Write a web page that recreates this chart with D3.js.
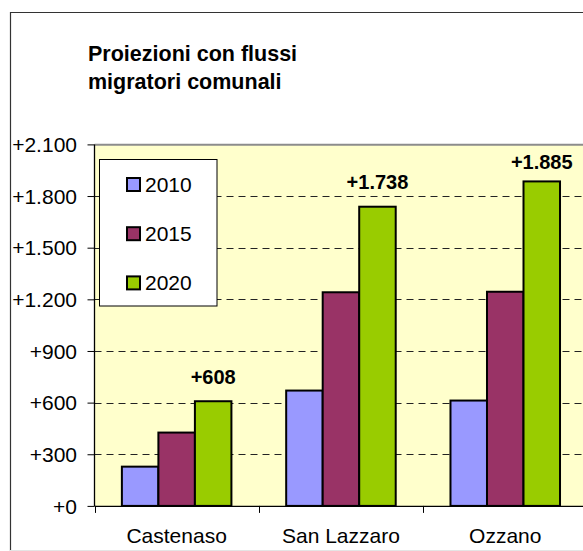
<!DOCTYPE html>
<html>
<head>
<meta charset="utf-8">
<script src="https://cdn.jsdelivr.net/npm/d3@7"></script>
<style>
html,body{margin:0;padding:0;background:#fff;}
svg{display:block;}
text{font-family:"Liberation Sans",Arial,sans-serif;}
</style>
</head>
<body>
<svg id="chart" width="583" height="551"></svg>
<script>
const categories = ["Castenaso", "San Lazzaro", "Ozzano"];
const seriesNames = ["2010", "2015", "2020"];
const values2010 = [228, 670, 612];
const values2015 = [426, 1241, 1244];
const values2020 = [608, 1738, 1885];
const seriesColors = ["#9999FF", "#993366", "#99CC00"];
const yTickValues = [0, 300, 600, 900, 1200, 1500, 1800, 2100];
const titleLines = ["Proiezioni con flussi", "migratori comunali"];

const seriesValues = [values2010, values2015, values2020];
const fmt = v => "+" + d3.format(",")(v).replace(/,/g, ".");

const svg = d3.select("#chart");
svg.append("rect").attr("width", 583).attr("height", 551).attr("fill", "#fff");

// outer chart border
svg.append("path").attr("d", "M10.5,551 V12.5 H583").attr("fill", "none")
  .attr("stroke", "#333").attr("stroke-width", 1.2);
svg.append("line").attr("x1", 10).attr("x2", 583).attr("y1", 550.5).attr("y2", 550.5)
  .attr("stroke", "#e4e4e4").attr("stroke-width", 1);

// title
svg.append("g").selectAll("text").data(titleLines).join("text")
  .attr("x", 88).attr("y", (d, i) => 61 + i * 27.5)
  .attr("font-size", 21.5).attr("font-weight", "bold").attr("fill", "#000")
  .text(d => d);

const x0 = 94.5, yBase = 505.9, yTop = 144.4;
const x = d3.scaleBand().domain(categories).range([x0, x0 + 3 * 164.3]).paddingInner(0).paddingOuter(0);
const xs = d3.scaleBand().domain(seriesNames).range([0, x.bandwidth()]).paddingInner(0).paddingOuter(0.75);
const y = d3.scaleLinear().domain([0, 2100]).range([yBase, yTop]);

// plot area
svg.append("rect").attr("x", x0).attr("y", yTop).attr("width", 600).attr("height", yBase - yTop)
  .attr("fill", "#FFFFCC");
svg.append("line").attr("x1", x0).attr("x2", 583).attr("y1", 144.8).attr("y2", 144.8)
  .attr("stroke", "#8c8c8c").attr("stroke-width", 2);

// gridlines
svg.append("g").selectAll("line").data(yTickValues.filter(v => v > 0 && v < 2100)).join("line")
  .attr("x1", x0).attr("x2", 583)
  .attr("y1", d => Math.round(y(d)) + 0.5).attr("y2", d => Math.round(y(d)) + 0.5)
  .attr("stroke", "#222").attr("stroke-width", 1).attr("stroke-dasharray", "7,5");

// bars
const groups = svg.append("g").selectAll("g").data(seriesNames).join("g")
  .attr("fill", (d, i) => seriesColors[i]);
groups.each(function(s, si) {
  d3.select(this).selectAll("rect").data(categories).join("rect")
    .attr("x", (c) => x(c) + xs(s))
    .attr("width", xs.bandwidth())
    .attr("y", (c, ci) => y(seriesValues[si][ci]))
    .attr("height", (c, ci) => yBase - y(seriesValues[si][ci]))
    .attr("stroke", "#000").attr("stroke-width", 2);
});

// data labels for 2020
svg.append("g").selectAll("text").data(categories).join("text")
  .attr("x", c => x(c) + xs("2020") + xs.bandwidth() / 2)
  .attr("y", (c, i) => Math.max(y(values2020[i]) - 17.5, yTop + 25))
  .attr("text-anchor", "middle").attr("font-size", 20).attr("font-weight", "bold")
  .attr("fill", "#000")
  .text((c, i) => fmt(values2020[i]));

// y axis
const yAxis = d3.axisLeft(y).tickValues(yTickValues).tickSize(7).tickPadding(10.5).tickFormat(fmt);
const gy = svg.append("g").attr("transform", `translate(${x0},0)`).call(yAxis);
gy.select(".domain").attr("stroke", "#000").attr("stroke-width", 1.3).attr("d", `M0,${yTop}V${yBase}`);
gy.selectAll(".tick line").attr("stroke", "#000");
gy.selectAll(".tick text").attr("font-size", 21).attr("font-family", "Liberation Sans, Arial, sans-serif")
  .attr("fill", "#000").attr("dy", "0.34em");

// x axis
const gx = svg.append("g").attr("transform", `translate(0,${yBase})`);
gx.append("line").attr("x1", x0).attr("x2", 583).attr("y1", 0.5).attr("y2", 0.5)
  .attr("stroke", "#000").attr("stroke-width", 1.3);
gx.selectAll("line.tk").data(categories).join("line").attr("class", "tk")
  .attr("x1", c => Math.round(x(c)) + 0.5).attr("x2", c => Math.round(x(c)) + 0.5)
  .attr("y1", 0).attr("y2", 7).attr("stroke", "#000");
gx.selectAll("text").data(categories).join("text")
  .attr("x", c => x(c) + x.bandwidth() / 2).attr("y", 37)
  .attr("text-anchor", "middle").attr("font-size", 21).attr("fill", "#000")
  .text(c => c);

// legend
const lg = svg.append("g");
lg.append("rect").attr("x", 99.5).attr("y", 159.5).attr("width", 117.5).attr("height", 146.5)
  .attr("fill", "#fff").attr("stroke", "#000").attr("stroke-width", 1);
const items = lg.selectAll("g").data(seriesNames).join("g")
  .attr("transform", (d, i) => `translate(127,${178 + i * 49.2})`);
items.append("rect").attr("width", 13).attr("height", 13)
  .attr("fill", (d, i) => seriesColors[i]).attr("stroke", "#000").attr("stroke-width", 2);
items.append("text").attr("x", 18).attr("y", 13.5).attr("font-size", 21).attr("fill", "#000")
  .text(d => d);
</script>
</body>
</html>
